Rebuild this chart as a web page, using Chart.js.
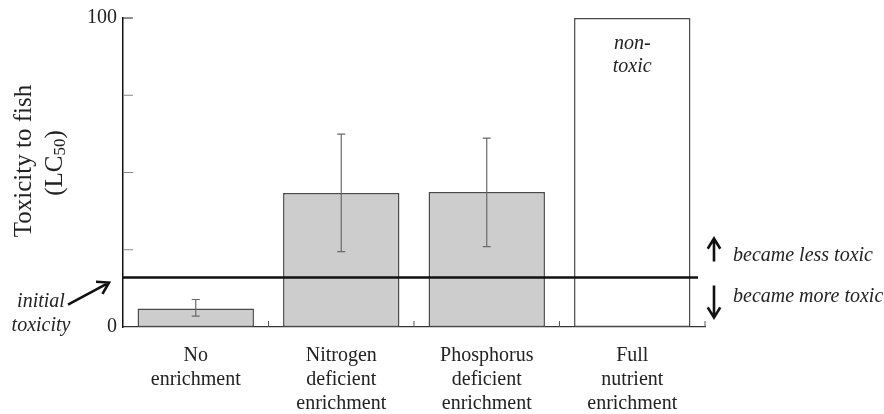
<!DOCTYPE html>
<html>
<head>
<meta charset="utf-8">
<script src="https://cdn.jsdelivr.net/npm/chart.js@4.4.1/dist/chart.umd.min.js"></script>
<style>
  html, body { margin: 0; padding: 0; background: #fff; }
  #wrap { width: 884px; height: 414px; }
</style>
</head>
<body>
<div id="wrap"><canvas id="toxChart" width="884" height="414"></canvas></div>
<script>
// data
const categories = [
  ["No", "enrichment"],
  ["Nitrogen", "deficient", "enrichment"],
  ["Phosphorus", "deficient", "enrichment"],
  ["Full", "nutrient", "enrichment"]
];
const toxicity = [6, 43.4, 43.7, 100];
const errLow = [3.5, 24.4, 26.0, null];
const errHigh = [8.9, 62.4, 61.1, null];
const barFills = ['#cdcdcd', '#cdcdcd', '#cdcdcd', '#ffffff'];
const yTicks = [0, 25, 50, 75, 100];
const yTickLabels = { 0: '0', 100: '100' };
const initialToxicity = 16;

const SERIF = '"Liberation Serif", "Times New Roman", serif';
const INK = '#222';

function arrow(ctx, x1, y1, x2, y2, head) {
  const a = Math.atan2(y2 - y1, x2 - x1);
  ctx.beginPath();
  ctx.moveTo(x1, y1);
  ctx.lineTo(x2, y2);
  ctx.moveTo(x2 - head * Math.cos(a - 0.55), y2 - head * Math.sin(a - 0.55));
  ctx.lineTo(x2, y2);
  ctx.lineTo(x2 - head * Math.cos(a + 0.55), y2 - head * Math.sin(a + 0.55));
  ctx.stroke();
}

const extras = {
  id: 'extras',
  afterDatasetsDraw(chart) {
    const ctx = chart.ctx;
    const xs = chart.scales.x, ys = chart.scales.y;
    const area = chart.chartArea;
    ctx.save();

    // error bars
    ctx.strokeStyle = '#6a6a6a';
    ctx.lineWidth = 1.2;
    errLow.forEach((lo, i) => {
      if (lo == null) return;
      const x = xs.getPixelForValue(i);
      const yl = ys.getPixelForValue(lo), yh = ys.getPixelForValue(errHigh[i]);
      ctx.beginPath();
      ctx.moveTo(x, yl); ctx.lineTo(x, yh);
      ctx.moveTo(x - 4, yl); ctx.lineTo(x + 4, yl);
      ctx.moveTo(x - 4, yh); ctx.lineTo(x + 4, yh);
      ctx.stroke();
    });

    // inward y ticks
    yTicks.forEach(v => {
      if (v === 0) return;
      const y = ys.getPixelForValue(v);
      ctx.strokeStyle = v === 100 ? '#222' : '#888';
      ctx.lineWidth = 1;
      ctx.beginPath();
      ctx.moveTo(area.left, y); ctx.lineTo(area.left + 10, y);
      ctx.stroke();
    });

    // small ticks between categories
    ctx.strokeStyle = '#555';
    ctx.lineWidth = 1;
    const step = xs.getPixelForValue(1) - xs.getPixelForValue(0);
    for (let i = 0; i < categories.length; i++) {
      const x = xs.getPixelForValue(i) + step / 2;
      ctx.beginPath();
      ctx.moveTo(x, area.bottom); ctx.lineTo(x, area.bottom - 6);
      ctx.stroke();
    }

    // initial toxicity line
    const yLine = ys.getPixelForValue(initialToxicity);
    ctx.strokeStyle = '#111';
    ctx.lineWidth = 2.5;
    ctx.beginPath();
    ctx.moveTo(area.left, yLine); ctx.lineTo(area.right - 7, yLine);
    ctx.stroke();

    // annotations
    ctx.fillStyle = INK;
    ctx.font = 'italic 20px ' + SERIF;
    ctx.textAlign = 'center';
    ctx.textBaseline = 'middle';
    ctx.fillText('initial', 41, yLine + 24);
    ctx.fillText('toxicity', 41, yLine + 48);
    ctx.fillText('non-', xs.getPixelForValue(3), 44);
    ctx.fillText('toxic', xs.getPixelForValue(3), 67);
    ctx.textAlign = 'left';
    ctx.fillText('became less toxic', 733, yLine - 22);
    ctx.fillText('became more toxic', 733, yLine + 19);

    ctx.strokeStyle = '#111';
    ctx.lineWidth = 2.6;
    ctx.lineCap = 'butt';
    ctx.lineJoin = 'miter';
    arrow(ctx, 68, yLine + 27, 109, yLine + 5, 13);
    arrow(ctx, 714, yLine - 16, 714, yLine - 39, 12);
    arrow(ctx, 714, yLine + 8, 714, yLine + 40, 12);

    // y axis title with subscript
    ctx.save();
    ctx.translate(24, 161);
    ctx.rotate(-Math.PI / 2);
    ctx.font = '25px ' + SERIF;
    ctx.textAlign = 'center';
    ctx.fillText('Toxicity to fish', 0, 0);
    ctx.restore();

    ctx.save();
    ctx.translate(55, 163);
    ctx.rotate(-Math.PI / 2);
    ctx.textAlign = 'left';
    ctx.font = '25px ' + SERIF;
    const w1 = ctx.measureText('(LC').width;
    ctx.font = '17px ' + SERIF;
    const w2 = ctx.measureText('50').width;
    ctx.font = '25px ' + SERIF;
    const w3 = ctx.measureText(')').width;
    const x0 = -(w1 + w2 + w3) / 2;
    ctx.fillText('(LC', x0, 0);
    ctx.font = '17px ' + SERIF;
    ctx.fillText('50', x0 + w1, 6);
    ctx.font = '25px ' + SERIF;
    ctx.fillText(')', x0 + w1 + w2, 0);
    ctx.restore();

    ctx.restore();
  }
};

new Chart(document.getElementById('toxChart'), {
  type: 'bar',
  data: {
    labels: categories,
    datasets: [{
      data: toxicity,
      backgroundColor: barFills,
      borderColor: '#4a4a4a',
      borderWidth: 1.5,
      borderSkipped: false,
      barPercentage: 0.8,
      categoryPercentage: 1
    }]
  },
  options: {
    responsive: false,
    animation: false,
    layout: { padding: { top: 15, right: 179, bottom: 0, left: 0 } },
    plugins: {
      legend: { display: false },
      tooltip: { enabled: false }
    },
    scales: {
      x: {
        grid: { display: false, drawTicks: false },
        border: { color: '#333', width: 1.2 },
        ticks: {
          color: INK,
          font: { family: SERIF, size: 20, lineHeight: 1.2 },
          padding: 17,
          maxRotation: 0
        },
        afterFit(scale) { scale.height = 87; }
      },
      y: {
        min: 0,
        max: 100,
        grid: { display: false, drawTicks: false },
        border: { color: '#111', width: 1.5 },
        afterBuildTicks(scale) { scale.ticks = yTicks.map(v => ({ value: v })); },
        ticks: {
          color: INK,
          padding: 6,
          font: { family: SERIF, size: 20 },
          callback: v => yTickLabels[v] || ''
        },
        afterFit(scale) { scale.width = 123; }
      }
    }
  },
  plugins: [extras]
});
</script>
</body>
</html>
